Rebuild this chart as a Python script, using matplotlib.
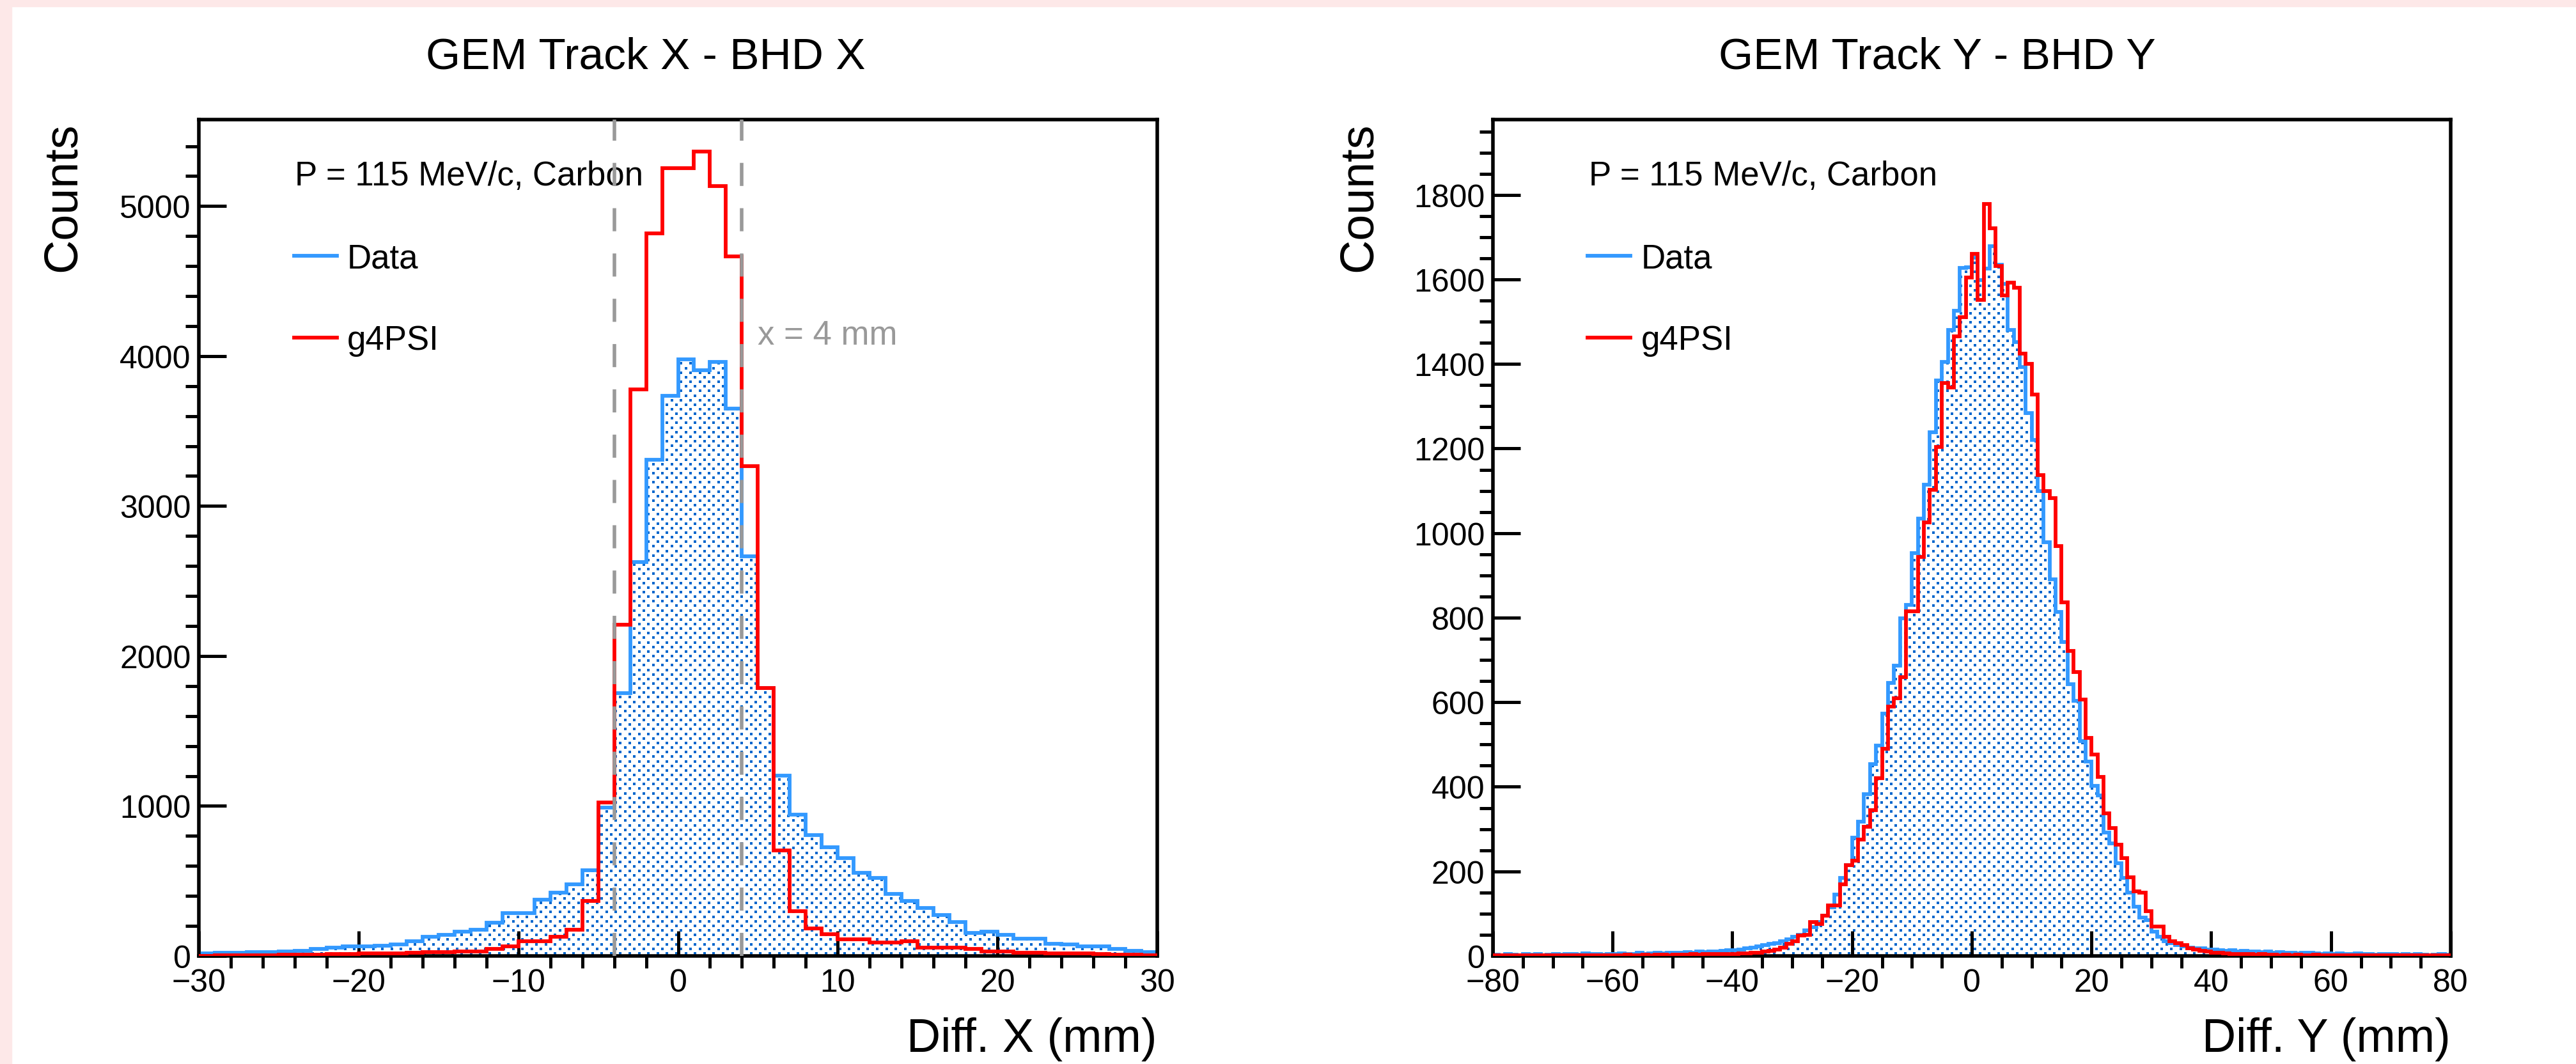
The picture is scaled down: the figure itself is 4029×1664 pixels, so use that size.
import numpy as np
import matplotlib
matplotlib.use('Agg')
import matplotlib.pyplot as plt
from matplotlib.patches import Rectangle
from matplotlib.ticker import MultipleLocator

plt.rcParams['font.family'] = ['Liberation Sans', 'DejaVu Sans']
plt.rcParams['lines.scale_dashes'] = False

# --- data: 1 mm bins ---
x_edges = np.arange(-30, 31)
data_x = [18, 20, 20, 25, 25, 30, 35, 45, 55, 65,
          65, 70, 75, 100, 130, 140, 160, 175, 220, 285,
          285, 375, 420, 478, 573, 990, 1752, 2628, 3310, 3734,
          3978, 3905, 3960, 3650, 2664, 1788, 1204, 942, 807, 723,
          653, 555, 522, 412, 365, 321, 274, 226, 153, 164,
          139, 117, 117, 80, 77, 66, 62, 47, 36, 26]
g4psi_x = [2, 3, 4, 4, 5, 8, 8, 10, 12, 12,
           15, 15, 18, 20, 25, 25, 28, 30, 48, 62,
           98, 98, 128, 175, 365, 1022, 2208, 3777, 4818, 5255,
           5255, 5365, 5135, 4664, 3266, 1788, 704, 299, 182, 146,
           110, 110, 91, 91, 98, 55, 55, 55, 47, 30,
           30, 22, 20, 18, 18, 15, 12, 10, 8, 5]

y_edges = np.arange(-80, 81)
data_y = [3, 2, 4, 3, 2, 5, 3, 4, 2, 3,
          4, 3, 5, 4, 3, 6, 4, 5, 3, 4,
          5, 6, 4, 5, 7, 5, 6, 8, 6, 7,
          8, 7, 9, 8, 10, 9, 11, 10, 12, 13,
          14, 15, 18, 20, 22, 25, 28, 30, 35, 40,
          45, 50, 60, 68, 80, 95, 115, 145, 185, 215,
          280, 318, 382, 454, 497, 573, 646, 686, 798, 830,
          953, 1034, 1114, 1239, 1361, 1405, 1480, 1526, 1627, 1628,
          1652, 1598, 1625, 1679, 1634, 1589, 1481, 1451, 1393, 1284,
          1220, 1099, 979, 891, 813, 743, 642, 603, 508, 460,
          402, 380, 292, 266, 220, 185, 149, 117, 91, 84,
          58, 45, 35, 30, 25, 22, 20, 18, 18, 15,
          15, 13, 12, 14, 11, 12, 10, 11, 9, 10,
          8, 9, 7, 8, 6, 7, 8, 6, 5, 6,
          5, 6, 4, 5, 6, 4, 5, 3, 4, 5,
          4, 3, 4, 3, 4, 3, 2, 3, 4, 3]
g4psi_y = [2, 1, 2, 2, 1, 2, 1, 2, 2, 1,
           2, 2, 1, 2, 2, 1, 2, 2, 2, 1,
           2, 2, 3, 2, 2, 3, 2, 3, 3, 2,
           3, 3, 3, 4, 3, 4, 4, 5, 4, 5,
           5, 6, 6, 8, 8, 10, 12, 15, 20, 28,
           35, 48, 50, 80, 75, 95, 120, 120, 170, 215,
           225, 275, 305, 345, 420, 490, 590, 610, 660, 815,
           815, 943, 1025, 1102, 1204, 1355, 1345, 1466, 1511, 1604,
           1660, 1552, 1778, 1721, 1632, 1562, 1592, 1581, 1425, 1401,
           1327, 1137, 1099, 1083, 969, 837, 722, 671, 606, 515,
           476, 424, 337, 302, 263, 231, 186, 152, 149, 106,
           69, 69, 45, 35, 30, 25, 18, 15, 12, 10,
           8, 7, 6, 5, 5, 4, 4, 3, 4, 3,
           3, 2, 3, 2, 3, 2, 2, 3, 2, 2,
           2, 1, 2, 2, 1, 2, 2, 1, 2, 1,
           2, 1, 1, 2, 1, 2, 1, 1, 2, 1]

titles = ['GEM Track X - BHD X', 'GEM Track Y - BHD Y']
xlabels = ['Diff. X (mm)', 'Diff. Y (mm)']
header = 'P = 115 MeV/c, Carbon'
cut_x = [-4, 4]

blue = '#3399ff'
red = '#ff0000'
dot_rgb = (0.0, 0.4, 0.8)

fig = plt.figure(figsize=(40.3, 16.65), dpi=100)
fig.patches.append(Rectangle((0, 1 - 11 / 1665), 1, 11 / 1665, transform=fig.transFigure,
                             color='#fde8e8', zorder=0))
fig.patches.append(Rectangle((0, 0), 18 / 4030, 1, transform=fig.transFigure,
                             color='#fde8e8', zorder=0))

ax1 = fig.add_axes([311 / 4030, 1 - 1496 / 1665, 1499 / 4030, 1308 / 1665])
ax2 = fig.add_axes([2335 / 4030, 1 - 1496 / 1665, 1498 / 4030, 1308 / 1665])


def dot_pattern(ax):
    # ROOT-like dotted fill, one dot lattice in screen pixels
    w = int(round(ax.bbox.width))
    h = int(round(ax.bbox.height))
    yy, xx = np.mgrid[0:h, 0:w]
    col = np.floor(xx / 7.3).astype(int)
    dx = xx - col * 7.3
    dy = (yy + (col % 2) * 7.15) % 14.3
    mask = (dx < 4) & (dy < 4)
    img = np.zeros((h, w, 4))
    img[mask] = (*dot_rgb, 1.0)
    return img


def draw_panel(ax, edges, data, sim, ymax, xmaj, xmin_step, ymaj, ymin_step, title, xlabel, tx, cx):
    lo, hi = edges[0], edges[-1]
    fill = ax.stairs(data, edges, fill=True, facecolor='none', edgecolor='none', zorder=1)
    img = ax.imshow(dot_pattern(ax), extent=(lo, hi, 0, ymax), aspect='auto',
                    interpolation='nearest', zorder=1)
    img.set_clip_path(fill)
    ax.stairs(data, edges, color=blue, lw=4.2, label='Data', zorder=2)
    ax.stairs(sim, edges, color=red, lw=4.2, label='g4PSI', zorder=3)
    ax.set_xlim(lo, hi)
    ax.set_ylim(0, ymax)
    ax.xaxis.set_major_locator(MultipleLocator(xmaj))
    ax.xaxis.set_minor_locator(MultipleLocator(xmin_step))
    ax.yaxis.set_major_locator(MultipleLocator(ymaj))
    ax.yaxis.set_minor_locator(MultipleLocator(ymin_step))
    ax.tick_params(direction='in', top=False, right=False, labelsize=36, width=3.6)
    ax.tick_params(axis='y', which='major', length=31, pad=9)
    ax.tick_params(axis='y', which='minor', length=15, width=3.6)
    ax.tick_params(axis='x', which='major', length=28, pad=14)
    ax.tick_params(axis='x', which='minor', length=14, width=3.6)
    for s in ax.spines.values():
        s.set_linewidth(4)
    ax.text(0.10, 0.933, header, transform=ax.transAxes, ha='left', va='center', fontsize=38)
    ax.legend(loc='center left', bbox_to_anchor=(0.085, 0.785), frameon=False,
              fontsize=38, handlelength=1.27, handletextpad=0.3, labelspacing=1.47,
              borderaxespad=0)
    fig.text(tx, 1 - 90 / 1665, title, ha='center', va='center', fontsize=50)
    fig.text(ax.get_position().x1, 20 / 1665, xlabel, ha='right', va='baseline', fontsize=53)
    fig.text(cx, 1 - 192 / 1665, 'Counts', rotation=90, ha='center', va='top', fontsize=53)


draw_panel(ax1, x_edges, data_x, g4psi_x, 5577, 10, 2, 1000, 200,
           titles[0], xlabels[0], 1010 / 4030, 98 / 4030)
draw_panel(ax2, y_edges, data_y, g4psi_y, 1978, 20, 5, 200, 50,
           titles[1], xlabels[1], 3030 / 4030, 2125 / 4030)

for xc in cut_x:
    ax1.axvline(xc, color='#999999', lw=4, dashes=(26, 25), zorder=4)
ax1.text(5.0, 4140, 'x = 4 mm', color='#999999', fontsize=38, va='center', ha='left')

fig.savefig('out.png', dpi=100)
